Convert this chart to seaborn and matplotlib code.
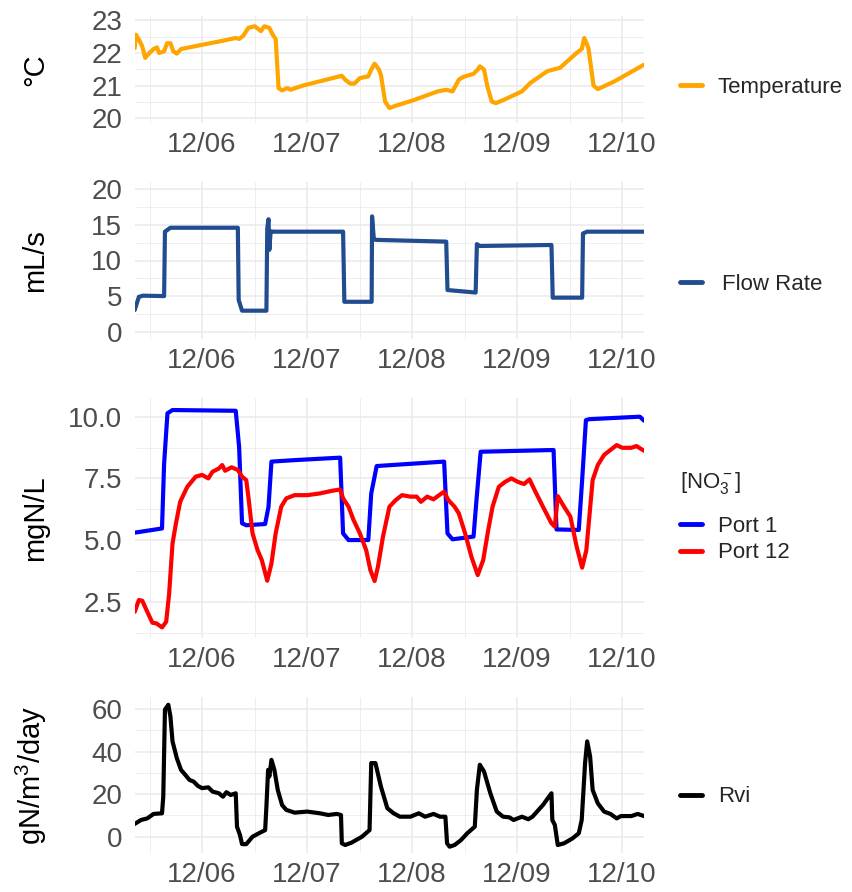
import numpy as np
import pandas as pd
import matplotlib
matplotlib.use("Agg")
import matplotlib.pyplot as plt
import matplotlib.dates as mdates
from matplotlib.ticker import MultipleLocator
import seaborn as sns

# ---------------- data (time in days since 12/06 00:00) ----------------
TEMP_T = [-0.641, -0.629, -0.601, -0.569, -0.541, -0.501, -0.461, -0.429, -0.409, -0.361,
          -0.333, -0.301, -0.273, -0.240, -0.200, 0.0, 0.160, 0.321, 0.353, 0.393,
          0.441, 0.501, 0.561, 0.593, 0.641, 0.673, 0.701, 0.729, 0.762, 0.814,
          0.842, 0.962, 1.122, 1.331, 1.363, 1.411, 1.451, 1.503, 1.583, 1.611,
          1.643, 1.683, 1.703, 1.743, 1.784, 1.844, 2.004, 2.244, 2.325, 2.385,
          2.445, 2.485, 2.585, 2.625, 2.645, 2.685, 2.717, 2.758, 2.798, 2.886,
          3.046, 3.126, 3.287, 3.367, 3.407, 3.567, 3.615, 3.639, 3.679, 3.727,
          3.768, 3.928, 4.208]
TEMP_V = [22.15, 22.56, 22.41, 22.2, 21.85, 22.0, 22.12, 22.17, 22.0, 22.05,
          22.3, 22.3, 22.05, 21.98, 22.12, 22.25, 22.35, 22.46, 22.43, 22.53,
          22.77, 22.82, 22.67, 22.82, 22.77, 22.56, 22.43, 20.92, 20.85, 20.92,
          20.87, 21.0, 21.13, 21.3, 21.18, 21.06, 21.06, 21.23, 21.28, 21.49,
          21.67, 21.5, 21.33, 20.51, 20.31, 20.38, 20.54, 20.82, 20.87, 20.82,
          21.18, 21.26, 21.36, 21.49, 21.59, 21.49, 20.97, 20.51, 20.46, 20.58,
          20.82, 21.08, 21.44, 21.51, 21.54, 22.0, 22.12, 22.46, 22.15, 21.0,
          20.89, 21.13, 21.64]

FLOW_T = [-0.641, -0.601, -0.561, -0.361, -0.353, -0.301, 0.341, 0.349, 0.381, 0.613,
          0.621, 0.633, 0.641, 0.653, 0.681, 1.343, 1.355, 1.615, 1.619, 1.635,
          1.651, 2.325, 2.337, 2.605, 2.617, 2.645, 3.327, 3.339, 3.619, 3.627,
          3.667, 4.208]
FLOW_V = [3.04, 4.9, 5.06, 5.0, 14.05, 14.6, 14.6, 4.45, 2.95, 2.95,
          14.5, 15.8, 11.5, 14.1, 14.05, 14.05, 4.2, 4.2, 16.2, 13.1,
          12.9, 12.65, 5.85, 5.5, 12.3, 12.04, 12.18, 4.78, 4.78, 13.8,
          14.05, 14.05]

PORT1_T = [-0.641, -0.381, -0.361, -0.329, -0.281, 0.321, 0.353, 0.381, 0.421, 0.601,
           0.633, 0.661, 0.882, 1.315, 1.343, 1.395, 1.583, 1.611, 1.663, 2.305,
           2.337, 2.385, 2.585, 2.613, 2.653, 3.347, 3.375, 3.587, 3.619, 3.655,
           3.687, 4.168, 4.208]
PORT1_V = [5.3, 5.47, 8.1, 10.14, 10.27, 10.24, 8.78, 5.68, 5.6, 5.65,
           6.35, 8.18, 8.24, 8.34, 5.27, 5.0, 5.0, 6.89, 8.0, 8.18,
           5.27, 5.03, 5.14, 6.62, 8.58, 8.65, 5.43, 5.41, 7.43, 9.86,
           9.9, 10.0, 9.84]

PORT12_T = [-0.641, -0.601, -0.569, -0.521, -0.473, -0.433, -0.381, -0.341, -0.313, -0.281,
            -0.248, -0.208, -0.140, -0.060, 0.0, 0.060, 0.100, 0.160, 0.192, 0.220,
            0.281, 0.341, 0.381, 0.421, 0.441, 0.481, 0.529, 0.569, 0.621, 0.661,
            0.701, 0.754, 0.802, 0.882, 1.002, 1.122, 1.242, 1.315, 1.343, 1.395,
            1.443, 1.503, 1.563, 1.603, 1.643, 1.675, 1.723, 1.784, 1.844, 1.904,
            1.984, 2.044, 2.084, 2.144, 2.204, 2.244, 2.305, 2.345, 2.405, 2.445,
            2.505, 2.565, 2.625, 2.677, 2.725, 2.766, 2.826, 2.886, 2.946, 3.006,
            3.066, 3.118, 3.166, 3.246, 3.327, 3.359, 3.387, 3.447, 3.507, 3.567,
            3.619, 3.659, 3.719, 3.768, 3.828, 3.888, 3.948, 4.000, 4.088, 4.136,
            4.208]
PORT12_V = [2.09, 2.57, 2.54, 2.09, 1.65, 1.62, 1.46, 1.69, 2.84, 4.86,
            5.68, 6.55, 7.16, 7.57, 7.64, 7.5, 7.77, 7.9, 8.04, 7.81,
            7.95, 7.84, 7.57, 7.43, 6.76, 5.27, 4.59, 4.19, 3.35, 4.05,
            5.27, 6.35, 6.69, 6.82, 6.82, 6.89, 7.0, 7.05, 6.69, 6.35,
            5.81, 5.27, 4.59, 3.78, 3.34, 3.92, 5.14, 6.35, 6.62, 6.82,
            6.76, 6.76, 6.55, 6.76, 6.65, 6.78, 6.96, 6.62, 6.35, 6.08,
            5.27, 4.32, 3.58, 4.19, 5.41, 6.35, 7.16, 7.36, 7.5, 7.36,
            7.27, 7.46, 7.03, 6.35, 5.68, 5.54, 6.78, 6.35, 5.95, 4.73,
            3.88, 4.59, 7.43, 8.04, 8.45, 8.65, 8.85, 8.74, 8.74, 8.81,
            8.62]

RVI_T = [-0.641, -0.581, -0.521, -0.461, -0.381, -0.369, -0.353, -0.321, -0.301, -0.281,
         -0.240, -0.200, -0.160, -0.120, -0.080, -0.040, 0.0, 0.060, 0.100, 0.160,
         0.200, 0.232, 0.273, 0.321, 0.333, 0.361, 0.381, 0.421, 0.481, 0.541,
         0.601, 0.613, 0.629, 0.641, 0.661, 0.689, 0.721, 0.762, 0.802, 0.882,
         1.002, 1.122, 1.202, 1.283, 1.323, 1.331, 1.363, 1.423, 1.523, 1.595,
         1.611, 1.651, 1.703, 1.764, 1.824, 1.884, 1.984, 2.064, 2.124, 2.204,
         2.265, 2.317, 2.333, 2.357, 2.405, 2.465, 2.525, 2.597, 2.617, 2.645,
         2.685, 2.745, 2.806, 2.866, 2.926, 2.966, 3.046, 3.106, 3.146, 3.246,
         3.327, 3.335, 3.359, 3.387, 3.447, 3.527, 3.587, 3.615, 3.647, 3.667,
         3.695, 3.719, 3.768, 3.828, 3.888, 3.948, 3.988, 4.088, 4.148, 4.208]
RVI_V = [6.0, 7.85, 8.6, 10.7, 11.0, 18.8, 59.7, 62.0, 56.5, 44.8,
         36.9, 31.4, 29.1, 26.7, 25.9, 23.9, 22.8, 23.2, 21.2, 20.4,
         18.8, 20.9, 19.6, 20.4, 4.7, 0.8, -3.5, -3.5, 0.0, 1.6,
         3.1, 14.1, 31.4, 28.3, 36.1, 31.4, 22.0, 14.9, 12.6, 11.3,
         11.8, 11.0, 10.2, 10.7, 10.2, -3.1, -3.9, -2.8, 0.0, 3.1,
         34.6, 34.6, 23.6, 13.4, 11.0, 9.4, 9.4, 11.0, 9.4, 10.7,
         9.4, 9.4, -3.1, -4.7, -3.9, -1.6, 1.6, 4.7, 22.0, 33.8,
         30.6, 20.4, 11.8, 9.4, 9.1, 7.85, 9.4, 8.2, 9.4, 14.9,
         20.4, 7.85, 5.5, -3.9, -3.1, -0.8, 1.6, 7.85, 34.6, 44.8,
         37.7, 22.0, 15.7, 11.8, 10.7, 8.6, 9.7, 9.7, 10.7, 9.7]

DAY0 = pd.Timestamp("2023-12-06")

def to_time(t):
    return DAY0 + pd.to_timedelta(np.asarray(t), unit="D")

temp_df = pd.DataFrame({"time": to_time(TEMP_T), "value": TEMP_V, "series": "Temperature"})
flow_df = pd.DataFrame({"time": to_time(FLOW_T), "value": FLOW_V, "series": "Flow Rate"})
no3_df = pd.concat([
    pd.DataFrame({"time": to_time(PORT1_T), "value": PORT1_V, "series": "Port 1"}),
    pd.DataFrame({"time": to_time(PORT12_T), "value": PORT12_V, "series": "Port 12"}),
], ignore_index=True)
rvi_df = pd.DataFrame({"time": to_time(RVI_T), "value": RVI_V, "series": "Rvi"})

# ---------------- style ----------------
sns.set_style("white")
plt.rcParams["font.family"] = ["Liberation Sans", "DejaVu Sans"]
plt.rcParams["mathtext.fontset"] = "custom"
plt.rcParams["mathtext.rm"] = "Liberation Sans"
plt.rcParams["mathtext.it"] = "Liberation Sans:italic"
plt.rcParams["mathtext.bf"] = "Liberation Sans:bold"
plt.rcParams["mathtext.default"] = "regular"

W, H = 852, 892
fig = plt.figure(figsize=(W / 100, H / 100), dpi=100)
LEFT, RIGHT = 134.7, 644.0

def make_ax(top, bottom):
    return fig.add_axes([LEFT / W, 1 - bottom / H, (RIGHT - LEFT) / W, (bottom - top) / H])

LW = 3.0
TICK_COLOR = "#4D4D4D"
GRID = "#EBEBEB"
xmin, xmax = to_time([min(TEMP_T)])[0], to_time([max(TEMP_T)])[0]

def style_ax(ax, ylim, major, ylabel):
    ax.set_xlim(xmin, xmax)
    ax.set_ylim(*ylim)
    ax.xaxis.set_major_locator(mdates.DayLocator())
    ax.xaxis.set_minor_locator(mdates.HourLocator(byhour=[12]))
    ax.xaxis.set_major_formatter(mdates.DateFormatter("%m/%d"))
    ax.yaxis.set_major_locator(MultipleLocator(major))
    ax.yaxis.set_minor_locator(MultipleLocator(major / 2))
    ax.grid(True, which="major", color=GRID, linewidth=1.2)
    ax.grid(True, which="minor", color=GRID, linewidth=0.6)
    ax.set_axisbelow(True)
    for s in ax.spines.values():
        s.set_visible(False)
    ax.tick_params(axis="both", which="both", length=0, labelsize=20, labelcolor=TICK_COLOR)
    ax.tick_params(axis="y", pad=9)
    ax.tick_params(axis="x", pad=6.5)
    ax.set_xlabel("")
    ax.set_ylabel(ylabel, fontsize=21, color="black")
    ax.yaxis.set_label_coords(-0.168, 0.5)

def put_legend(ax, y_px, title=None, textpad=0.7):
    h, l = ax.get_legend_handles_labels()
    leg = ax.legend(h, l, loc="center left", bbox_to_anchor=(680 / W, 1 - y_px / H),
                    bbox_transform=fig.transFigure, frameon=False, borderpad=0,
                    borderaxespad=0, handlelength=1.0, handletextpad=textpad,
                    fontsize=16, labelspacing=0.25, title=title,
                    title_fontsize=16, alignment="left")
    for line in leg.get_lines():
        line.set_linewidth(LW + 0.5)
    if title is not None:
        leg._legend_box.sep = 14
    return leg

# Panel 1: temperature
ax1 = make_ax(15.5, 123.0)
sns.lineplot(data=temp_df, x="time", y="value", color="#FFA500", linewidth=LW,
             estimator=None, sort=False, label="Temperature", ax=ax1)
style_ax(ax1, (19.85, 23.15), 1, "°C")
ax1.set_yticks([20, 21, 22, 23])
put_legend(ax1, 87)

# Panel 2: flow rate
ax2 = make_ax(182.2, 338.8)
sns.lineplot(data=flow_df, x="time", y="value", color="#214C8F", linewidth=LW,
             estimator=None, sort=False, label="Flow Rate", ax=ax2)
style_ax(ax2, (-1, 21), 5, "mL/s")
ax2.set_yticks([0, 5, 10, 15, 20])
put_legend(ax2, 284, textpad=0.9)

# Panel 3: nitrate
ax3 = make_ax(398.2, 637.5)
sns.lineplot(data=no3_df, x="time", y="value", hue="series",
             palette={"Port 1": "#0000FF", "Port 12": "#FF0000"}, linewidth=LW,
             estimator=None, sort=False, ax=ax3)
style_ax(ax3, (1.05, 10.75), 2.5, "mgN/L")
ax3.set_yticks([2.5, 5.0, 7.5, 10.0])
ax3.yaxis.set_major_formatter(matplotlib.ticker.FormatStrFormatter("%.1f"))
put_legend(ax3, 517, title=r"[NO$_3^-$]")

# Panel 4: Rvi
ax4 = make_ax(697.3, 853.3)
sns.lineplot(data=rvi_df, x="time", y="value", color="black", linewidth=LW,
             estimator=None, sort=False, label="Rvi", ax=ax4)
style_ax(ax4, (-7.8, 65.5), 20, r"gN/m$^3$/day")
ax4.set_yticks([0, 20, 40, 60])
put_legend(ax4, 797)

fig.savefig("out.png", dpi=100)
